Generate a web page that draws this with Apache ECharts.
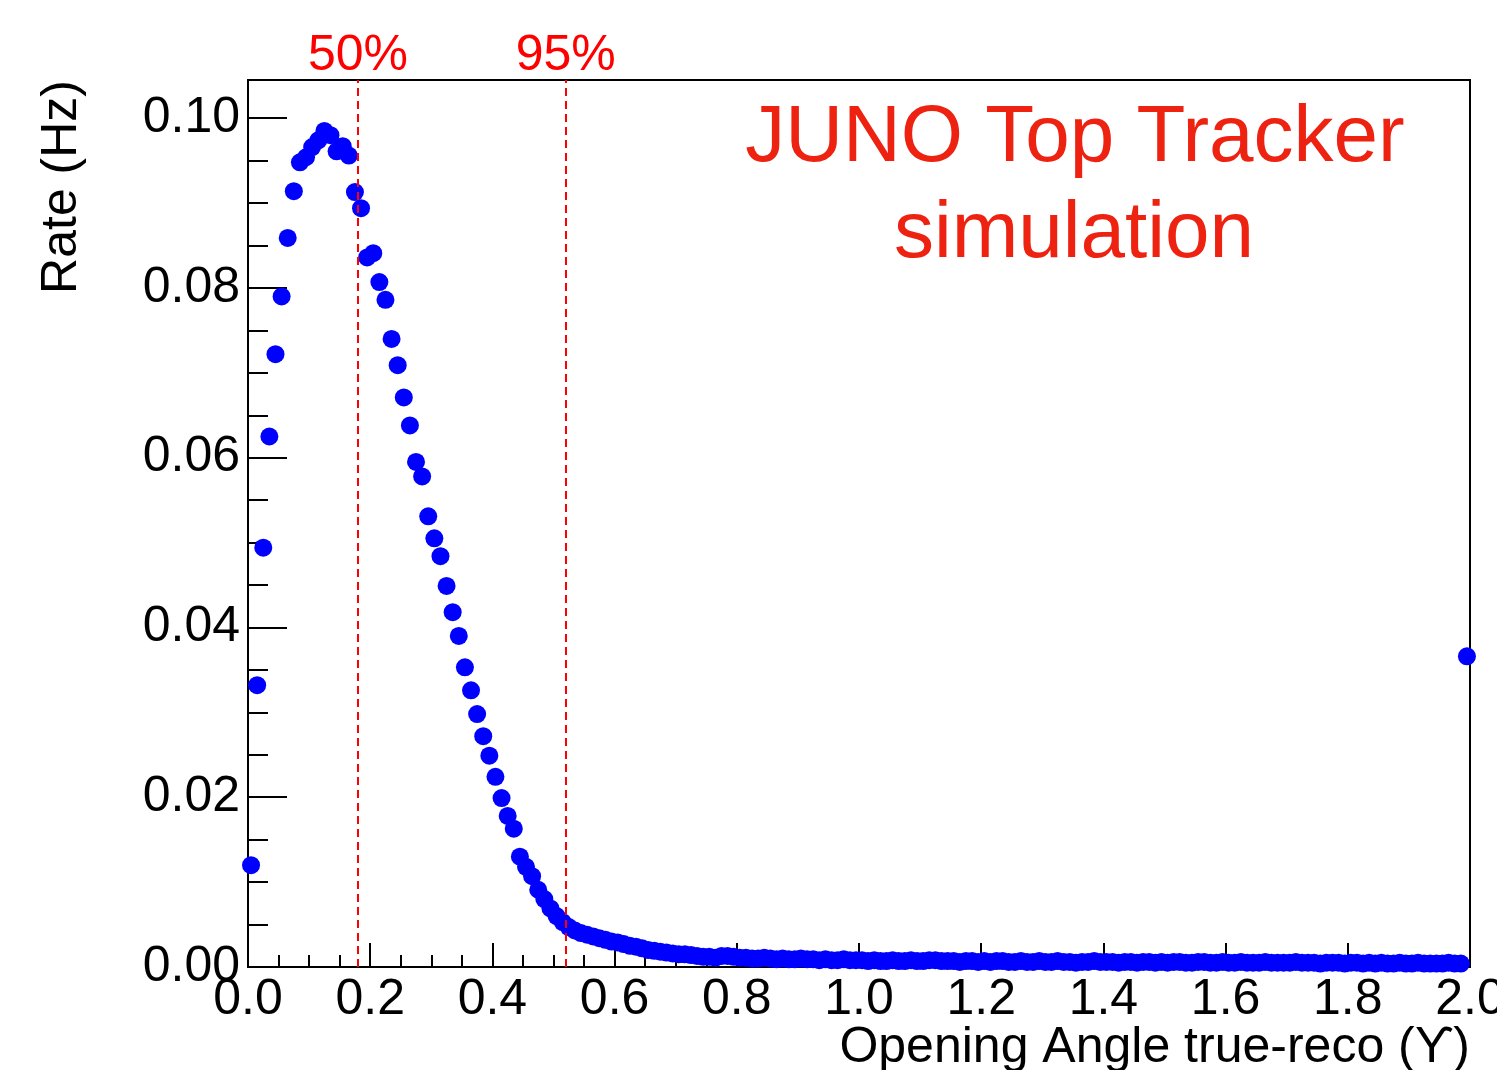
<!DOCTYPE html>
<html>
<head>
<meta charset="utf-8">
<script src="https://cdn.jsdelivr.net/npm/echarts@6/dist/echarts.min.js"></script>
<style>
html,body{margin:0;padding:0;background:#fff;overflow:hidden;}
#chart{width:1497px;height:1070px;}
</style>
</head>
<body>
<div id="chart"></div>
<script>
// Histogram definition
var xMin = 0.0;
var xMax = 2.0;
var nBins = 200;
// Rate (Hz) per bin
var rateValues = [
  0.0120, 0.0332, 0.0494, 0.0625, 0.0722, 0.0790, 0.0859, 0.0914, 0.0948, 0.0954,
  0.0966, 0.0974, 0.0985, 0.0980, 0.0961, 0.0967, 0.0956, 0.0913, 0.0894, 0.0836,
  0.0841, 0.0807, 0.0786, 0.0740, 0.0709, 0.0671, 0.0638, 0.0595, 0.0578, 0.0531,
  0.0505, 0.0484, 0.0449, 0.0418, 0.0390, 0.0353, 0.0326, 0.0298, 0.0272, 0.0249,
  0.0224, 0.0199, 0.0178, 0.0163, 0.0130, 0.0118, 0.0107, 0.0091, 0.0080, 0.0069,
  0.0060, 0.0053, 0.0047, 0.0043, 0.0040, 0.0038, 0.0036, 0.0034, 0.0032, 0.0030,
  0.0029, 0.0027, 0.0025, 0.0024, 0.0022, 0.0020, 0.0019, 0.0018, 0.0017, 0.0016,
  0.0015, 0.0015, 0.0014, 0.0013, 0.0012, 0.0012, 0.0011, 0.0013, 0.0013, 0.0012,
  0.0011, 0.0011, 0.0010, 0.0010, 0.0011, 0.0010, 0.0009, 0.0010, 0.0009, 0.0009,
  0.0010, 0.0009, 0.0009, 0.0008, 0.0009, 0.0008, 0.0008, 0.0009, 0.0008, 0.0008,
  0.0008, 0.0007, 0.0008, 0.0007, 0.0007, 0.0008, 0.0007, 0.0007, 0.0008, 0.0007,
  0.0007, 0.0008, 0.0008, 0.0007, 0.0007, 0.0007, 0.0006, 0.0007, 0.0007, 0.0006,
  0.0007, 0.0006, 0.0007, 0.0007, 0.0006, 0.0006, 0.0007, 0.0006, 0.0006, 0.0007,
  0.0006, 0.0006, 0.0007, 0.0006, 0.0006, 0.0005, 0.0006, 0.0006, 0.0007, 0.0006,
  0.0006, 0.0006, 0.0005, 0.0006, 0.0006, 0.0005, 0.0006, 0.0006, 0.0005, 0.0006,
  0.0005, 0.0006, 0.0006, 0.0005, 0.0005, 0.0006, 0.0006, 0.0005, 0.0005, 0.0006,
  0.0005, 0.0005, 0.0006, 0.0005, 0.0005, 0.0005, 0.0006, 0.0005, 0.0005, 0.0005,
  0.0005, 0.0006, 0.0005, 0.0005, 0.0005, 0.0004, 0.0005, 0.0005, 0.0005, 0.0004,
  0.0005, 0.0005, 0.0004, 0.0005, 0.0004, 0.0005, 0.0004, 0.0004, 0.0005, 0.0004,
  0.0004, 0.0005, 0.0004, 0.0004, 0.0004, 0.0004, 0.0005, 0.0004, 0.0004, 0.0366
];
// Containment lines
var percentileNames = ['50%', '95%'];
var percentileAngles = [0.185, 0.516];
// Axis ticks
var yTickStep = 0.02;
var xTickStep = 0.2;
var yMax = 0.1045;
// Texts
var xTitle = 'Opening Angle true-reco (\u03D2)';
var yTitle = 'Rate (Hz)';
var labelLines = ['JUNO Top Tracker', 'simulation'];

var binWidth = (xMax - xMin) / nBins;
var points = rateValues.map(function (v, i) {
  return [xMin + (i + 0.5) * binWidth, v];
});

var FONT = '"Liberation Sans", Arial, Helvetica, sans-serif';
var chart = echarts.init(document.getElementById('chart'), null, {renderer: 'canvas'});

var option = {
  animation: false,
  backgroundColor: '#ffffff',
  grid: {
    left: 248, right: 27, top: 80, bottom: 103,
    outerBoundsMode: 'none', containLabel: false,
    show: true, borderColor: '#000', borderWidth: 2, backgroundColor: 'transparent'
  },
  xAxis: {
    type: 'value', min: xMin, max: xMax, interval: xTickStep,
    axisLine: {show: true, onZero: false, lineStyle: {color: '#000', width: 2}},
    axisTick: {show: true, inside: true, length: 24, lineStyle: {color: '#000', width: 2}},
    minorTick: {show: true, splitNumber: 4, length: 12, lineStyle: {color: '#000', width: 2}},
    splitLine: {show: false},
    axisLabel: {
      margin: 8, color: '#000', fontFamily: FONT, fontSize: 50,
      formatter: function (v) { return v.toFixed(1); },
      showMinLabel: true, showMaxLabel: true, hideOverlap: false
    }
  },
  yAxis: {
    type: 'value', min: 0, max: yMax, interval: yTickStep,
    axisLine: {show: true, onZero: false, lineStyle: {color: '#000', width: 2}},
    axisTick: {show: true, inside: true, length: 39, lineStyle: {color: '#000', width: 2}},
    minorTick: {show: true, splitNumber: 4, length: 20, lineStyle: {color: '#000', width: 2}},
    splitLine: {show: false},
    axisLabel: {
      margin: 8, color: '#000', fontFamily: FONT, fontSize: 50,
      formatter: function (v) { return v.toFixed(2); },
      showMaxLabel: false
    }
  },
  series: [{
    type: 'scatter',
    data: points,
    symbol: 'circle',
    symbolSize: 18,
    itemStyle: {color: '#0000ff', opacity: 1},
    silent: true,
    markLine: {
      silent: true,
      symbol: ['none', 'none'],
      animation: false,
      lineStyle: {color: '#ff0000', width: 2, type: [8, 5]},
      label: {
        show: true, position: 'end', distance: 6, offset: [0, 7],
        color: '#ff0000', fontFamily: FONT, fontSize: 50,
        formatter: function (p) { return p.name; }
      },
      emphasis: {disabled: true},
      data: percentileAngles.map(function (a, i) {
        return {name: percentileNames[i], xAxis: a};
      })
    }
  }],
  graphic: [
    {
      type: 'text', x: 1075, y: 139,
      style: {text: labelLines[0], fill: '#ee2211', font: '80px ' + FONT, textAlign: 'center', textVerticalAlign: 'middle'}
    },
    {
      type: 'text', x: 1074, y: 235,
      style: {text: labelLines[1], fill: '#ee2211', font: '80px ' + FONT, textAlign: 'center', textVerticalAlign: 'middle'}
    },
    {
      type: 'text', x: 1470, y: 1048,
      style: {text: xTitle, fill: '#000', font: '50px ' + FONT, textAlign: 'right', textVerticalAlign: 'middle'}
    },
    {
      type: 'text', x: 62, y: 80, rotation: Math.PI / 2,
      style: {text: yTitle, fill: '#000', font: '50px ' + FONT, textAlign: 'right', textVerticalAlign: 'middle'}
    }
  ]
};
chart.setOption(option);
</script>
</body>
</html>
